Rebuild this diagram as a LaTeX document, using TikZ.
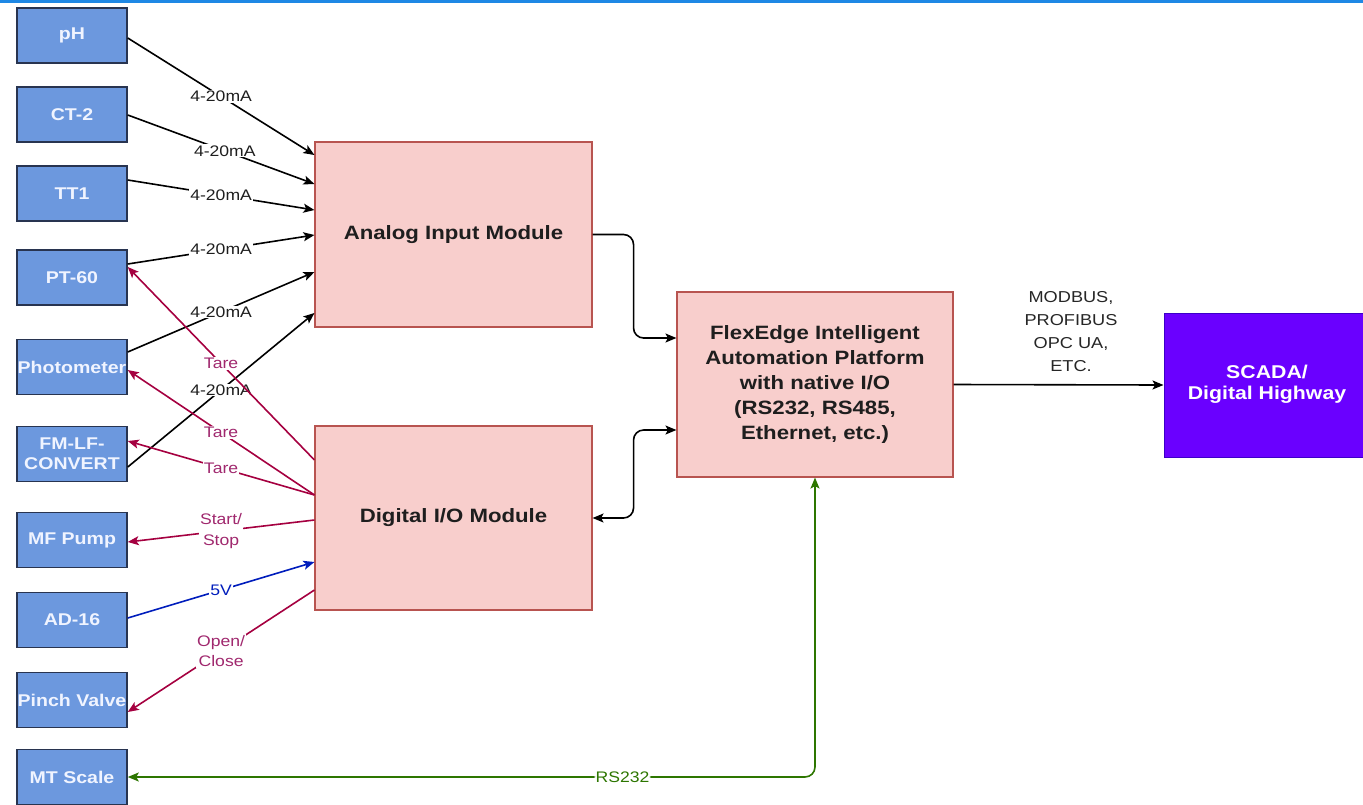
\documentclass[tikz,border=0pt]{standalone}
\usepackage{fontspec}
\setmainfont{Liberation Sans}[FakeStretch=1.15]
\usetikzlibrary{arrows.meta,calc}
\definecolor{srcfill}{RGB}{108,152,222}
\definecolor{srcdraw}{RGB}{40,52,80}
\definecolor{srctext}{RGB}{240,244,255}
\definecolor{modfill}{RGB}{248,206,204}
\definecolor{moddraw}{RGB}{184,84,80}
\definecolor{scadafill}{RGB}{106,0,255}
\definecolor{scadadraw}{RGB}{60,0,200}
\definecolor{redline}{RGB}{165,0,64}
\definecolor{redlabel}{RGB}{160,40,110}
\definecolor{blueline}{RGB}{0,29,188}
\definecolor{greenline}{RGB}{45,118,0}
\definecolor{topblue}{RGB}{30,136,229}
\definecolor{labtext}{RGB}{30,30,30}
\begin{document}
\begin{tikzpicture}[x=1pt,y=-1pt,
  src/.style={draw=srcdraw,line width=1.5pt,fill=srcfill,minimum width=110pt,minimum height=55pt,
    inner sep=0pt,align=center,text=srctext,font=\fontsize{17}{20}\selectfont\bfseries},
  mod/.style={draw=moddraw,line width=1.1pt,fill=modfill,inner sep=0pt,align=center,text=labtext,
    font=\fontsize{19.3}{25}\selectfont\bfseries},
  conn/.style={line width=1.6pt,-{Stealth[length=11pt,width=9pt,inset=2.5pt]}},
  biconn/.style={line width=1.6pt,{Stealth[length=11pt,width=9pt,inset=2.5pt]}-{Stealth[length=11pt,width=9pt,inset=2.5pt]}},
  lab/.style={fill=white,inner sep=1pt,align=center,text=labtext,font=\fontsize{15.3}{20.5}\selectfont},
  rlab/.style={lab,text=redlabel},
  blab/.style={lab,text=blueline},
  glab/.style={lab,text=greenline}]
\useasboundingbox (0,0) rectangle (1363,804);
\fill[topblue] (0,0) rectangle (1363,2.5);

% left column
\node[src] (ph) at (72,35.5) {pH};
\node[src] (ct2) at (72,114.5) {CT-2};
\node[src] (tt1) at (72,193.5) {TT1};
\node[src] (pt60) at (72,277.5) {PT-60};
\node[src] (photo) at (72,367) {Photometer};
\node[src] (fmlf) at (72,454) {FM-LF-\\CONVERT};
\node[src] (mfpump) at (72,540) {MF Pump};
\node[src] (ad16) at (72,620) {AD-16};
\node[src] (pinch) at (72,700) {Pinch Valve};
\node[src] (mtscale) at (72,777) {MT Scale};

% modules
\node[mod,minimum width=277pt,minimum height=185pt] (analog) at (453.5,234.5) {Analog Input Module};
\node[mod,minimum width=277pt,minimum height=184pt] (digital) at (453.5,518) {Digital I/O Module};
\node[mod,minimum width=276pt,minimum height=185pt] (flex) at (815,384.5)
  {\raisebox{-4pt}{\begin{tabular}{@{}c@{}}FlexEdge Intelligent\\Automation Platform\\with native I/O\\(RS232, RS485,\\Ethernet, etc.)\end{tabular}}};
\node[draw=scadadraw,line width=1pt,fill=scadafill,minimum width=206pt,minimum height=144pt,inner sep=0pt,
  align=center,text=white,font=\fontsize{18.5}{21}\selectfont\bfseries] (scada) at (1267,385)
  {\raisebox{-7pt}{\begin{tabular}{@{}c@{}}SCADA/\\Digital Highway\end{tabular}}};

% analog inputs
\draw[conn] ($(ph.east)+(0,2.5)$) -- node[lab]{4-20mA} ($(analog.west)+(0,-79.5)$);
\draw[conn] ($(ct2.east)+(0,0.5)$) -- node[lab,pos=0.52]{4-20mA} ($(analog.west)+(0,-50.5)$);
\draw[conn] ($(tt1.east)+(0,-13.5)$) -- node[lab]{4-20mA} ($(analog.west)+(0,-24.5)$);
\draw[conn] ($(pt60.east)+(0,-13.5)$) -- node[lab]{4-20mA} ($(analog.west)+(0,0.5)$);
\draw[conn] ($(photo.east)+(0,-15)$) -- node[lab]{4-20mA} ($(analog.west)+(0,37.5)$);
\draw[conn] ($(fmlf.east)+(0,13)$) -- node[lab]{4-20mA} ($(analog.west)+(0,78.5)$);

% digital I/O
\draw[conn,redline] ($(digital.west)+(0,-58)$) -- node[rlab]{Tare} ($(pt60.east)+(0,-10.5)$);
\draw[conn,redline] ($(digital.west)+(0,-23)$) -- node[rlab]{Tare} ($(photo.east)+(0,3)$);
\draw[conn,redline] ($(digital.west)+(0,-23)$) -- node[rlab]{Tare} ($(fmlf.east)+(0,-13)$);
\draw[conn,redline] ($(digital.west)+(0,2)$) -- node[rlab]{Start/\\Stop} ($(mfpump.east)+(0,2)$);
\draw[conn,blueline] ($(ad16.east)+(0,-2)$) -- node[blab]{5V} ($(digital.west)+(0,44)$);
\draw[conn,redline] ($(digital.west)+(0,72)$) -- node[rlab]{Open/\\Close} ($(pinch.east)+(0,12)$);

% module to platform
\draw[conn,rounded corners=10pt] (analog.east) -- ($(analog.east)+(41,0)$) |- ($(flex.west)+(0,-46.5)$);
\draw[biconn,rounded corners=10pt] (digital.east) -- ($(digital.east)+(41,0)$) |- ($(flex.west)+(0,45.5)$);
\draw[biconn,greenline,rounded corners=10pt] (mtscale.east) -| node[glab,pos=0.36]{RS232} (flex.south);

% platform to SCADA
\draw[conn] (flex.east) -- (scada.west);
\node[lab,text=black!85,font=\fontsize{15.8}{23}\selectfont] (proto) at (1071,332) {MODBUS,\\PROFIBUS\\OPC UA,\\ETC.};
\end{tikzpicture}
\end{document}
